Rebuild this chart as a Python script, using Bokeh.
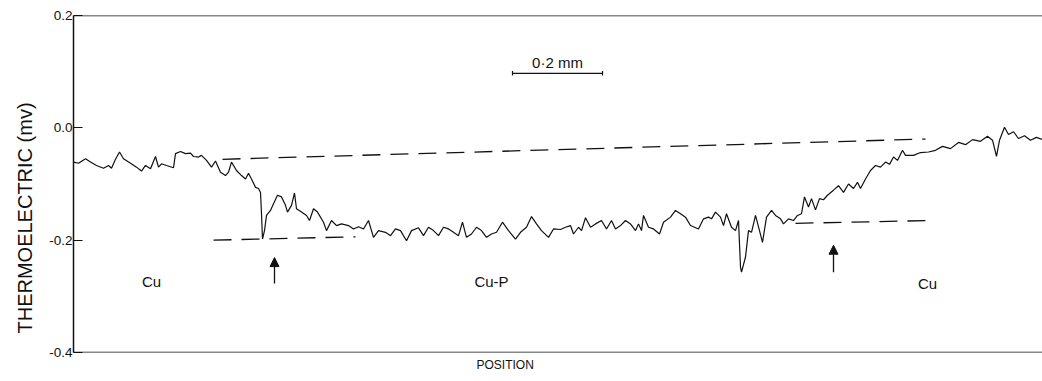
import math
from bokeh.plotting import figure
from bokeh.models import (Range1d, FixedTicker, PrintfTickFormatter, Span, Label,
                          Arrow, NormalHead, Title)
from bokeh.embed import file_html
from bokeh.resources import INLINE

# ---- data (position in arbitrary scan units, thermoelectric signal in mV) ----
position = [0, 5, 12, 17, 23, 30, 35, 38, 42, 46, 50, 57, 63, 68, 72, 77, 82, 85, 88, 93,
            100, 102, 107, 112, 117, 120, 125, 128, 133, 138, 142, 147, 152, 155, 158, 163,
            168, 172, 175, 178, 182, 185, 187, 188, 189, 191, 193, 197, 200, 204, 208, 212,
            214, 218, 221, 223, 228, 233, 236, 240, 244, 250, 253, 258, 263, 268, 275, 280,
            285, 290, 295, 300, 305, 312, 317, 322, 327, 333, 338, 345, 350, 355, 360, 365,
            370, 375, 380, 385, 389, 393, 398, 403, 408, 413, 418, 423, 429, 435, 442, 447,
            453, 458, 463, 468, 475, 480, 487, 492, 497, 500, 505, 508, 512, 517, 522, 528,
            533, 538, 542, 547, 552, 557, 562, 565, 568, 570, 575, 580, 586, 590, 597, 602,
            607, 612, 617, 625, 630, 635, 638, 642, 647, 650, 653, 658, 662, 665, 667, 668,
            672, 675, 678, 682, 686, 689, 693, 698, 702, 707, 710, 715, 720, 724, 728, 731,
            735, 738, 742, 746, 750, 754, 760, 765, 770, 775, 780, 784, 787, 792, 797, 802,
            807, 812, 816, 820, 824, 829, 832, 840, 847, 855, 862, 869, 877, 885, 892, 899,
            907, 914, 919, 923, 926, 931, 935, 940, 945, 951, 957, 963, 969]
thermo_mv = [-0.061, -0.063, -0.055, -0.061, -0.067, -0.072, -0.067, -0.072, -0.056, -0.043,
             -0.055, -0.063, -0.070, -0.077, -0.067, -0.073, -0.051, -0.070, -0.064, -0.067,
             -0.071, -0.046, -0.042, -0.046, -0.045, -0.051, -0.052, -0.049, -0.058, -0.070,
             -0.059, -0.079, -0.085, -0.079, -0.061, -0.076, -0.085, -0.091, -0.081, -0.091,
             -0.106, -0.108, -0.115, -0.153, -0.198, -0.183, -0.156, -0.147, -0.135, -0.120,
             -0.123, -0.138, -0.150, -0.138, -0.116, -0.144, -0.150, -0.156, -0.165, -0.144,
             -0.150, -0.168, -0.183, -0.165, -0.174, -0.171, -0.174, -0.180, -0.176, -0.180,
             -0.165, -0.195, -0.183, -0.186, -0.192, -0.180, -0.183, -0.201, -0.183, -0.178,
             -0.192, -0.177, -0.183, -0.192, -0.177, -0.180, -0.186, -0.192, -0.168, -0.195,
             -0.189, -0.177, -0.183, -0.195, -0.189, -0.186, -0.168, -0.183, -0.198, -0.186,
             -0.177, -0.158, -0.171, -0.183, -0.195, -0.180, -0.181, -0.177, -0.174, -0.189,
             -0.177, -0.183, -0.160, -0.177, -0.171, -0.165, -0.180, -0.165, -0.180, -0.174,
             -0.165, -0.171, -0.183, -0.171, -0.183, -0.156, -0.177, -0.180, -0.189, -0.168,
             -0.159, -0.147, -0.153, -0.159, -0.174, -0.180, -0.162, -0.159, -0.162, -0.150,
             -0.159, -0.174, -0.153, -0.177, -0.183, -0.165, -0.248, -0.257, -0.230, -0.183,
             -0.186, -0.156, -0.183, -0.204, -0.159, -0.147, -0.156, -0.162, -0.171, -0.162,
             -0.165, -0.156, -0.153, -0.123, -0.141, -0.126, -0.146, -0.126, -0.128, -0.120,
             -0.111, -0.103, -0.115, -0.100, -0.108, -0.097, -0.108, -0.091, -0.076, -0.067,
             -0.070, -0.061, -0.065, -0.052, -0.058, -0.040, -0.049, -0.049, -0.044, -0.043,
             -0.040, -0.033, -0.037, -0.026, -0.030, -0.021, -0.024, -0.015, -0.022, -0.051,
             -0.022, 0.001, -0.012, -0.007, -0.019, -0.014, -0.022, -0.017, -0.021]

# construction (baseline) lines
upper_line_x = [149, 852]
upper_line_y = [-0.056, -0.020]
lower_left_x = [140, 282]
lower_left_y = [-0.200, -0.194]
lower_right_x = [722, 857]
lower_right_y = [-0.170, -0.165]

# interface markers (arrows) and region labels
arrow_x = [201, 760]
arrow_tip = [-0.231, -0.209]
arrow_tail = [-0.277, -0.257]
region_names = ["Cu", "Cu-P", "Cu"]
region_x = [78, 418, 854]
region_y = [-0.274, -0.274, -0.277]

y_ticks = [-0.4, -0.2, 0.0, 0.2]

# scale bar 0.2 mm
scale_x = [439, 529]
scale_y = 0.097

FONT = "Liberation Sans"
INK = "#111111"

p = figure(width=1042, height=381, output_backend="svg", toolbar_location=None,
           x_range=Range1d(0, 969), y_range=Range1d(-0.4, 0.2),
           min_border_left=73, min_border_right=0, min_border_top=15, min_border_bottom=29)
p.outline_line_color = None
p.grid.visible = False
p.background_fill_color = "white"
p.border_fill_color = "white"
p.xaxis.visible = False

ya = p.yaxis[0]
ya.ticker = FixedTicker(ticks=y_ticks)
ya.formatter = PrintfTickFormatter(format="%.1f")
ya.major_tick_in = 9
ya.major_tick_out = 0
ya.minor_tick_line_color = None
ya.axis_line_width = 1.5
ya.axis_line_color = INK
ya.major_tick_line_color = INK
ya.major_tick_line_width = 1.2
ya.major_label_standoff = 1
ya.major_label_text_font = FONT
ya.major_label_text_font_size = "13.5px"
ya.major_label_text_color = INK

# axis titles as side-panel titles so that they can be offset like the original
p.add_layout(Title(text="POSITION", align="left", offset=403, standoff=6,
                   text_font=FONT, text_font_size="12px", text_font_style="normal",
                   text_color=INK), "below")
p.add_layout(Title(text="THERMOELECTRIC (mv)", align="left", offset=19, standoff=22,
                   text_font=FONT, text_font_size="20px", text_font_style="normal",
                   text_color=INK), "left")

# top and bottom frame lines
p.add_layout(Span(location=0.2, dimension="width", line_color=INK, line_width=1.5))
p.add_layout(Span(location=-0.4, dimension="width", line_color=INK, line_width=1.5))

# trace
p.line(position, thermo_mv, line_color=INK, line_width=1.2)

# dashed baselines
for xs, ys in [(upper_line_x, upper_line_y), (lower_left_x, lower_left_y),
               (lower_right_x, lower_right_y)]:
    p.line(xs, ys, line_color=INK, line_width=1.3, line_dash="18 10")

# arrows
for ax, tip, tail in zip(arrow_x, arrow_tip, arrow_tail):
    p.add_layout(Arrow(end=NormalHead(size=9, fill_color=INK, line_color=INK, line_width=1),
                       x_start=ax, y_start=tail, x_end=ax, y_end=tip,
                       line_color=INK, line_width=1.3))

# region labels
for name, rx, ry in zip(region_names, region_x, region_y):
    p.add_layout(Label(x=rx, y=ry, text=name, text_align="center", text_baseline="middle",
                       text_font=FONT, text_font_size="15px", text_color=INK))

# scale bar
p.segment(x0=[scale_x[0]], y0=[scale_y], x1=[scale_x[1]], y1=[scale_y],
          line_color=INK, line_width=1.2)
p.segment(x0=scale_x, y0=[scale_y - 0.004] * 2, x1=scale_x, y1=[scale_y + 0.004] * 2,
          line_color=INK, line_width=1.2)
p.add_layout(Label(x=(scale_x[0] + scale_x[1]) / 2, y=scale_y + 0.004, text="0·2 mm",
                   text_align="center", text_baseline="bottom",
                   text_font=FONT, text_font_size="15px", text_color=INK))

open("out.html", "w").write(file_html(p, INLINE))
